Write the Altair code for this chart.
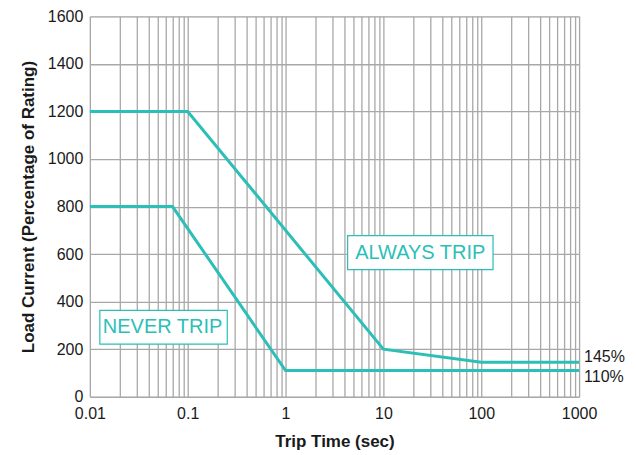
import altair as alt
import pandas as pd

# Curve data
always_x = [0.01, 0.1, 10, 100, 1000]
always_y = [1200, 1200, 200, 145, 145]
never_x = [0.01, 0.07, 1, 1000]
never_y = [800, 800, 110, 110]

# Axis ticks
x_grid = [m * 10 ** e for e in range(-2, 3) for m in range(1, 10)] + [1000]
x_labels = [0.01, 0.1, 1, 10, 100, 1000]
y_grid = list(range(0, 1700, 100))

# Annotations (data coordinates)
box_labels = ["NEVER TRIP", "ALWAYS TRIP"]
box_x1 = [0.01264, 4.31]
box_x2 = [0.2537, 132]
box_y1 = [221, 535]
box_y2 = [363, 678]
box_tx = [0.0553, 23.8]
box_ty = [292, 606]

end_labels = ["145%", "110%"]
end_x = [1000, 1000]
end_y = [145, 110]
end_dy = [-5, 6]

TEAL = "#2bbfb8"
GRID = "#a8a8a8"
FONT = "Liberation Sans"

curves = pd.DataFrame(
    {"t": always_x + never_x,
     "i": always_y + never_y,
     "curve": ["always"] * len(always_x) + ["never"] * len(never_x),
     "order": list(range(len(always_x))) + list(range(len(never_x)))}
)
boxes = pd.DataFrame({"label": box_labels, "x1": box_x1, "x2": box_x2,
                      "y1": box_y1, "y2": box_y2, "tx": box_tx, "ty": box_ty})

label_expr = " || ".join(f"datum.value == {v}" for v in x_labels)
x_scale = alt.Scale(type="log", domain=[0.01, 1000], nice=False)
y_scale = alt.Scale(domain=[0, 1600], nice=False)

x_axis = alt.Axis(
    title="Trip Time (sec)", values=x_grid, grid=True, gridColor=GRID, gridWidth=1.3,
    gridOpacity=1, ticks=False, domain=False,
    labelExpr=f"({label_expr}) ? (datum.value < 1 ? format(datum.value, '.2~f') : format(datum.value, 'd')) : ''",
    labelFont=FONT, labelFontSize=16, labelColor="#1a1a1a", labelPadding=9,
    titleFont=FONT, titleFontSize=17, titleFontWeight="bold", titleColor="#1a1a1a",
    titlePadding=12, labelFlush=False, labelOverlap=False,
)
y_axis = alt.Axis(
    title="Load Current (Percentage of Rating)", values=y_grid, grid=True, gridColor=GRID,
    gridWidth=1.3, gridOpacity=1, ticks=False, domain=False,
    labelExpr="datum.value % 200 == 0 ? format(datum.value, 'd') : ''",
    labelFont=FONT, labelFontSize=16, labelColor="#1a1a1a", labelPadding=7,
    titleFont=FONT, titleFontSize=17, titleFontWeight="bold", titleColor="#1a1a1a",
    titlePadding=10, labelOverlap=False,
)

lines = alt.Chart(curves).mark_line(color=TEAL, strokeWidth=3, clip=False).encode(
    x=alt.X("t:Q", scale=x_scale, axis=x_axis),
    y=alt.Y("i:Q", scale=y_scale, axis=y_axis),
    detail="curve:N",
    order="order:Q",
)

rects = alt.Chart(boxes).mark_rect(fill="white", stroke=TEAL, strokeWidth=1.2).encode(
    x=alt.X("x1:Q", scale=x_scale), x2="x2:Q",
    y=alt.Y("y1:Q", scale=y_scale), y2="y2:Q",
)
texts = alt.Chart(boxes).mark_text(color=TEAL, font=FONT, fontSize=20, baseline="middle").encode(
    x=alt.X("tx:Q", scale=x_scale), y=alt.Y("ty:Q", scale=y_scale), text="label:N",
)

end_layers = []
for lab, ex, ey, edy in zip(end_labels, end_x, end_y, end_dy):
    df = pd.DataFrame({"label": [lab], "x": [ex], "y": [ey]})
    end_layers.append(
        alt.Chart(df).mark_text(color="#1a1a1a", font=FONT, fontSize=16, align="left",
                                baseline="middle", dx=5, dy=edy).encode(
            x=alt.X("x:Q", scale=x_scale), y=alt.Y("y:Q", scale=y_scale), text="label:N",
        )
    )

chart = alt.layer(lines, rects, texts, *end_layers).properties(
    width=490, height=381,
    autosize=alt.AutoSizeParams(type="none"),
    padding={"left": 82, "top": 8, "right": 50, "bottom": 60},
).configure_view(stroke=GRID, strokeWidth=1.3).configure(background="white")

chart.save("out.html", embed_options={"renderer": "svg", "actions": False})
